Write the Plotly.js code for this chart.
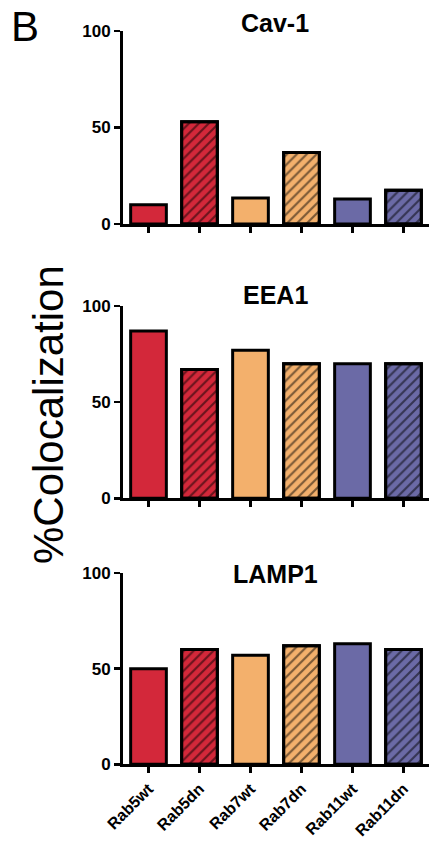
<!DOCTYPE html>
<html>
<head>
<meta charset="utf-8">
<script src="https://cdn.plot.ly/plotly-3.0.1.min.js"></script>
<style>html,body{margin:0;padding:0;background:#fff;}#chart{width:430px;height:842px;}</style>
</head>
<body>
<div id="chart"></div>
<script>
var categories = ["Rab5wt", "Rab5dn", "Rab7wt", "Rab7dn", "Rab11wt", "Rab11dn"];
var panelTitles = ["Cav-1", "EEA1", "LAMP1"];
var cav1 = [10, 53, 13.5, 37, 13, 17.5];
var eea1 = [87, 67, 77, 70, 70, 70];
var lamp1 = [50, 60, 57, 62, 63, 60];
var barColors = ["#d3283a", "#d3283a", "#f3b06c", "#f3b06c", "#6b6aa6", "#6b6aa6"];
var hatched = [false, true, false, true, false, true];
var yTickVals = [0, 50, 100];
var yAxisTitle = "%Colocalization";
var panelLetter = "B";

var series = [cav1, eea1, lamp1];
var W = 430, H = 842;
var pix = [[31, 224], [306, 498.3], [573, 764.3]];
var titleY = [22.5, 295, 574];
var FF = 'Liberation Sans, Arial, sans-serif';
var traces = [];
series.forEach(function(vals, i){
  var xa = i === 0 ? 'x' : 'x' + (i + 1);
  var ya = i === 0 ? 'y' : 'y' + (i + 1);
  traces.push({type: 'bar', x: categories, y: vals, xaxis: xa, yaxis: ya, width: 0.7,
    marker: {color: barColors, line: {color: '#000', width: 3}}, hoverinfo: 'skip'});
  // hatch overlay, only on the dominant-negative bars
  var hx = categories.filter(function(c, k){ return hatched[k]; });
  var hy = vals.filter(function(v, k){ return hatched[k]; });
  traces.push({type: 'bar', x: hx, y: hy, xaxis: xa, yaxis: ya, width: 0.7,
    marker: {color: '#000', line: {color: '#000', width: 3},
      pattern: {shape: '/', fgcolor: '#000', bgcolor: 'rgba(0,0,0,0)', size: 7, solidity: 0.3, fillmode: 'overlay'}},
    hoverinfo: 'skip'});
});

var layout = {
  width: W, height: H,
  margin: {l: 0, r: 0, t: 0, b: 0},
  paper_bgcolor: '#fff', plot_bgcolor: '#fff',
  showlegend: false, barmode: 'overlay',
  font: {family: FF, color: '#000'},
  annotations: []
};
series.forEach(function(v, i){
  var sfx = i === 0 ? '' : String(i + 1);
  var d = [1 - pix[i][1] / H, 1 - pix[i][0] / H];
  layout['xaxis' + sfx] = {
    domain: [123 / W, 429 / W], anchor: 'y' + sfx,
    range: [-0.5, 5.5], type: 'category',
    categoryorder: 'array', categoryarray: categories,
    showline: true, linecolor: '#000', linewidth: 3,
    ticks: 'outside', ticklen: 6, tickwidth: 2.5, tickcolor: '#000',
    showticklabels: i === 2, tickangle: -45,
    tickfont: {family: FF, size: 16, color: '#000', weight: 'bold'},
    showgrid: false, zeroline: false, fixedrange: true
  };
  layout['yaxis' + sfx] = {
    domain: d, anchor: 'x' + sfx,
    range: [0, 100],
    tickvals: yTickVals,
    showline: true, linecolor: '#000', linewidth: 3,
    ticks: 'outside', ticklen: 6, tickwidth: 2.5, tickcolor: '#000',
    tickfont: {family: FF, size: 17, color: '#000', weight: 'bold'},
    showgrid: false, zeroline: false, fixedrange: true
  };
  layout.annotations.push({
    text: '<b>' + panelTitles[i] + '</b>',
    xref: 'paper', yref: 'paper',
    x: 275 / W, y: 1 - titleY[i] / H,
    xanchor: 'center', yanchor: 'middle',
    showarrow: false,
    font: {family: FF, size: 25, color: '#000'}
  });
});
layout.annotations.push({
  text: yAxisTitle, xref: 'paper', yref: 'paper',
  x: 48 / W, y: 1 - 415 / H, xanchor: 'center', yanchor: 'middle',
  textangle: -90, showarrow: false,
  font: {family: FF, size: 42, color: '#000'}
});
layout.annotations.push({
  text: panelLetter, xref: 'paper', yref: 'paper',
  x: 25 / W, y: 1 - 27 / H, xanchor: 'center', yanchor: 'middle',
  showarrow: false,
  font: {family: FF, size: 42, color: '#000'}
});

Plotly.newPlot('chart', traces, layout, {displayModeBar: false, staticPlot: true});
</script>
</body>
</html>
